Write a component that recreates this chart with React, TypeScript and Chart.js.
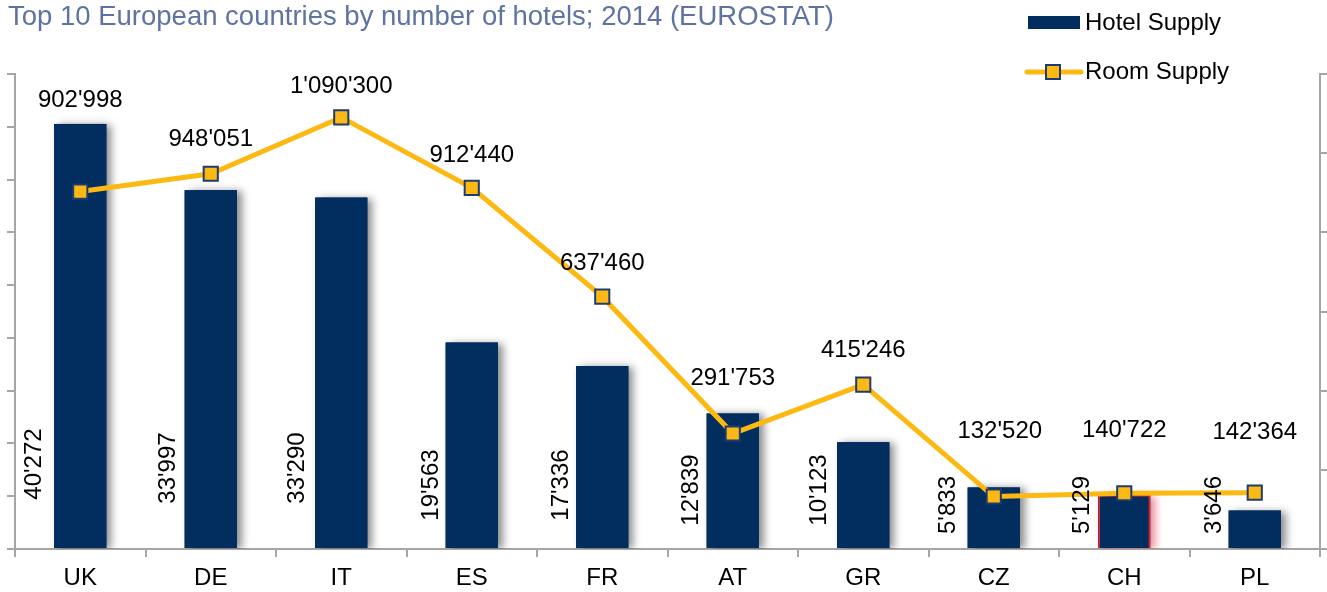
import { useEffect, useRef } from 'react';
import { Chart, registerables } from 'chart.js';

Chart.register(...registerables);

// ---- data ----
const countries = ['UK', 'DE', 'IT', 'ES', 'FR', 'AT', 'GR', 'CZ', 'CH', 'PL'];
const hotelSupply = [40272, 33997, 33290, 19563, 17336, 12839, 10123, 5833, 5129, 3646];
const roomSupply = [902998, 948051, 1090300, 912440, 637460, 291753, 415246, 132520, 140722, 142364];
const hotelAxis = { max: 45000, step: 5000 };
const roomAxis = { max: 1200000, step: 200000 };
const titleText = 'Top 10 European countries by number of hotels; 2014 (EUROSTAT)';
const hotelLabel = 'Hotel Supply';
const roomLabel = 'Room Supply';

// ---- label placement (pixel offsets, as placed in the original) ----
const roomLabelOffsets = [[0, -91], [0, -34], [0, -31], [0, -32], [0, -33], [0, -55], [0, -34], [6, -65], [0, -63], [0, -60]];
const hotelLabelOffsets = [[-46, -85], [-42, -81], [-44, -81], [-40, -64], [-41, -64], [-41, -59], [-44, -59], [-45, -44], [-42, -44], [-40, -44]];
const highlightedIndex = 8;

// ---- styles ----
const FONT = "'Liberation Sans', Arial, sans-serif";
const BAR = '#012D5F';
const LINE = '#FDB913';
const MARKER_BORDER = '#1F3C6E';
const AXIS = '#A6A6A6';
const TITLE_COLOR = '#5E73A2';

const fmt = (n: number) => String(n).replace(/\B(?=(\d{3})+(?!\d))/g, "'");

const customDraw = {
  id: 'customDraw',
  beforeDatasetDraw(chart: any, args: any) {
    if (args.index !== 0) return;
    const ctx = chart.ctx;
    const area = chart.chartArea;
    const meta = chart.getDatasetMeta(0);
    ctx.save();
    ctx.beginPath();
    ctx.rect(area.left, area.top - 20, area.right - area.left, area.bottom - area.top + 20);
    ctx.clip();
    meta.data.forEach((bar: any, i: number) => {
      const { x, y, base, width } = bar.getProps(['x', 'y', 'base', 'width'], true);
      ctx.save();
      ctx.shadowColor = i === highlightedIndex ? 'rgba(225,60,70,0.6)' : 'rgba(0,0,0,0.45)';
      ctx.shadowBlur = 8;
      ctx.shadowOffsetX = 5;
      ctx.shadowOffsetY = 1;
      ctx.fillStyle = BAR;
      ctx.fillRect(x - width / 2, y, width, base - y);
      ctx.restore();
    });
    ctx.restore();
  },
  afterDatasetsDraw(chart: any) {
    const ctx = chart.ctx;
    ctx.save();
    ctx.fillStyle = '#000';
    ctx.font = `24px ${FONT}`;
    ctx.textAlign = 'center';
    ctx.textBaseline = 'middle';
    // room supply labels above the markers
    const lineMeta = chart.getDatasetMeta(1);
    lineMeta.data.forEach((pt: any, i: number) => {
      const [dx, dy] = roomLabelOffsets[i];
      ctx.fillText(fmt(roomSupply[i]), pt.x + dx, pt.y + dy);
    });
    // hotel supply labels, rotated, left of each bar
    const barMeta = chart.getDatasetMeta(0);
    const bottom = chart.chartArea.bottom;
    barMeta.data.forEach((bar: any, i: number) => {
      const [dx, dy] = hotelLabelOffsets[i];
      ctx.save();
      ctx.translate(bar.x + dx, bottom + dy);
      ctx.rotate(-Math.PI / 2);
      ctx.fillText(fmt(hotelSupply[i]), 0, 0);
      ctx.restore();
    });
    ctx.restore();
  },
  afterDraw(chart: any) {
    const ctx = chart.ctx;
    ctx.save();
    // title
    ctx.font = `27.5px ${FONT}`;
    ctx.fillStyle = TITLE_COLOR;
    ctx.textAlign = 'left';
    ctx.textBaseline = 'middle';
    ctx.fillText(titleText, 8, 17);
    // legend
    ctx.fillStyle = BAR;
    ctx.fillRect(1028, 16, 52, 13);
    ctx.strokeStyle = LINE;
    ctx.lineWidth = 5;
    ctx.lineCap = 'round';
    ctx.beginPath();
    ctx.moveTo(1027, 72);
    ctx.lineTo(1081, 72);
    ctx.stroke();
    ctx.fillStyle = LINE;
    ctx.fillRect(1046, 65, 14, 14);
    ctx.strokeStyle = MARKER_BORDER;
    ctx.lineWidth = 2;
    ctx.strokeRect(1046, 65, 14, 14);
    ctx.fillStyle = '#000';
    ctx.font = `24px ${FONT}`;
    ctx.fillText(hotelLabel, 1085, 23);
    ctx.fillText(roomLabel, 1085, 72);
    ctx.restore();
  },
};

export default function App() {
  const ref = useRef<HTMLCanvasElement>(null);
  useEffect(() => {
    const chart = new Chart(ref.current as HTMLCanvasElement, {
      type: 'bar',
      data: {
        labels: countries,
        datasets: [
          {
            type: 'bar',
            label: hotelLabel,
            data: hotelSupply,
            yAxisID: 'y',
            backgroundColor: BAR,
            borderColor: countries.map((_, i) => (i === highlightedIndex ? '#E0202A' : BAR)),
            borderWidth: countries.map((_, i) => (i === highlightedIndex ? 2 : 0)),
            barPercentage: 0.4,
            categoryPercentage: 1,
            order: 1,
          },
          {
            type: 'line',
            label: roomLabel,
            data: roomSupply,
            yAxisID: 'y1',
            borderColor: LINE,
            backgroundColor: LINE,
            borderWidth: 5,
            pointStyle: 'rect',
            pointRadius: 10,
            pointBackgroundColor: LINE,
            pointBorderColor: MARKER_BORDER,
            pointBorderWidth: 2,
            tension: 0,
            clip: false,
            order: 0,
          },
        ],
      } as any,
      options: {
        responsive: false,
        animation: false,
        devicePixelRatio: 1,
        layout: { autoPadding: false, padding: { top: 74, left: 7, right: 0, bottom: 0 } },
        plugins: { legend: { display: false }, tooltip: { enabled: false }, title: { display: false } },
        scales: {
          x: {
            grid: { display: true, drawOnChartArea: false, drawTicks: true, tickLength: 8, color: AXIS, lineWidth: 2, offset: true },
            border: { color: AXIS, width: 2 },
            ticks: { color: '#000', font: { family: FONT, size: 24 }, padding: 7, maxRotation: 0 },
            afterFit: (s: any) => { s.height = 43; s.paddingLeft = 0; s.paddingRight = 0; },
          },
          y: {
            position: 'left',
            min: 0,
            max: hotelAxis.max,
            ticks: { stepSize: hotelAxis.step, display: false },
            grid: { drawOnChartArea: false, tickLength: 8, color: AXIS, lineWidth: 2 },
            border: { color: AXIS, width: 2 },
            afterFit: (s: any) => { s.width = 8; },
          },
          y1: {
            position: 'right',
            min: 0,
            max: roomAxis.max,
            ticks: { stepSize: roomAxis.step, display: false },
            grid: { drawOnChartArea: false, tickLength: 7, color: AXIS, lineWidth: 2 },
            border: { color: AXIS, width: 2 },
            afterFit: (s: any) => { s.width = 7; },
          },
        },
      } as any,
      plugins: [customDraw],
    });
    return () => chart.destroy();
  }, []);
  return (
    <div style={{ position: 'absolute', left: 0, top: 0, width: 1327, height: 592 }}>
      <canvas ref={ref} width={1327} height={592} style={{ display: 'block', width: 1327, height: 592 }} />
    </div>
  );
}
